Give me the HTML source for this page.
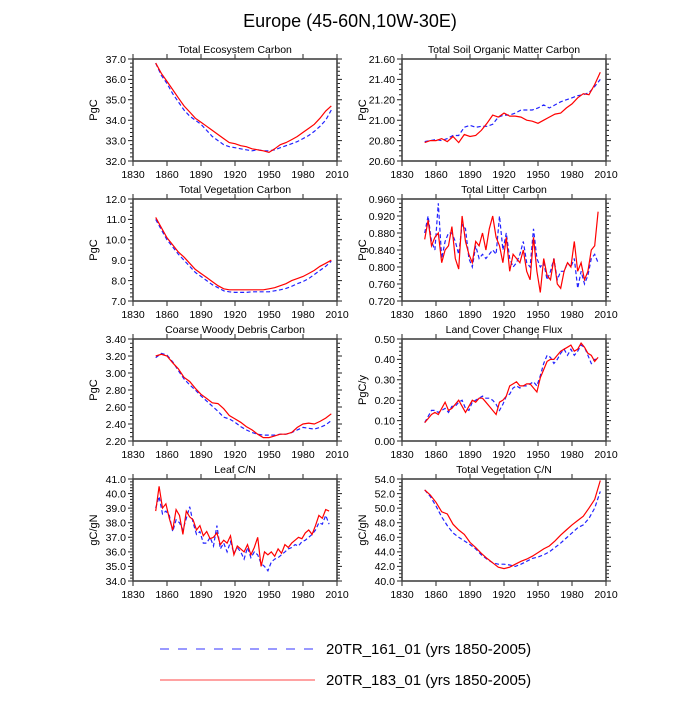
<!DOCTYPE html>
<html><head><meta charset="utf-8"><style>
body{margin:0;background:#fff;}
svg text{font-family:"Liberation Sans",sans-serif;fill:#000;}
</style></head><body>
<svg id="c" width="700" height="700" xmlns="http://www.w3.org/2000/svg">
<text x="350" y="27" font-size="18" text-anchor="middle">Europe (45-60N,10W-30E)</text>
<g>
<line x1="160" y1="649" x2="315" y2="649" stroke="#3333ff" stroke-width="1" stroke-dasharray="9,9"/>
<text x="326" y="654" font-size="15">20TR_161_01 (yrs 1850-2005)</text>
<line x1="160" y1="680" x2="315" y2="680" stroke="#ff4444" stroke-width="1"/>
<text x="326" y="685" font-size="15">20TR_183_01 (yrs 1850-2005)</text>
</g>
</svg>
<script>
const xTicks=[1830,1860,1890,1920,1950,1980,2010];
const yrs5Start=1850, yrs5Step=5, yrs3Start=1850, yrs3Step=3;

const ecoRed=[36.8,36.3,35.9,35.5,35.1,34.7,34.4,34.1,33.9,33.7,33.5,33.3,33.1,32.9,32.85,32.75,32.7,32.6,32.55,32.5,32.42,32.6,32.8,32.9,33.05,33.2,33.4,33.6,33.8,34.1,34.45,34.7];
const ecoBlue=[36.8,36.2,35.8,35.3,34.9,34.5,34.2,34.0,33.8,33.5,33.2,33.0,32.8,32.7,32.65,32.6,32.55,32.5,32.55,32.5,32.5,32.55,32.65,32.75,32.85,32.95,33.1,33.25,33.45,33.7,34.0,34.5];
const ecoTicks=["32.0","33.0","34.0","35.0","36.0","37.0"];

const soilRed=[20.78,20.8,20.8,20.82,20.79,20.84,20.78,20.86,20.84,20.85,20.9,20.97,21.05,21.03,21.07,21.04,21.04,21.03,21.0,20.99,20.97,21.0,21.03,21.06,21.07,21.12,21.16,21.22,21.26,21.25,21.35,21.47];
const soilBlue=[20.79,20.8,20.81,20.8,20.82,20.85,20.85,20.93,20.95,20.93,20.94,20.94,20.96,21.03,21.05,21.05,21.07,21.1,21.1,21.1,21.12,21.15,21.12,21.15,21.18,21.2,21.22,21.24,21.25,21.27,21.33,21.4];
const soilTicks=["20.60","20.80","21.00","21.20","21.40","21.60"];

const vegRed=[11.1,10.6,10.1,9.75,9.4,9.15,8.85,8.55,8.35,8.15,7.95,7.75,7.6,7.55,7.55,7.55,7.55,7.55,7.55,7.55,7.6,7.65,7.75,7.85,8.0,8.1,8.2,8.35,8.5,8.7,8.85,9.0];
const vegBlue=[11.0,10.5,10.0,9.65,9.3,9.0,8.7,8.4,8.2,8.0,7.8,7.65,7.5,7.45,7.42,7.42,7.42,7.45,7.45,7.45,7.45,7.5,7.55,7.62,7.72,7.85,7.95,8.1,8.3,8.5,8.7,8.95];
const vegTicks=["7.0","8.0","9.0","10.0","11.0","12.0"];

const litRed=[.865,.91,.85,.87,.88,.81,.84,.85,.895,.82,.795,.92,.86,.83,.81,.86,.85,.88,.84,.89,.92,.87,.85,.81,.87,.79,.83,.82,.81,.84,.79,.77,.87,.79,.74,.82,.78,.77,.82,.76,.75,.79,.81,.80,.86,.79,.81,.77,.79,.84,.85,.93];
const litBlue=[.88,.92,.86,.84,.95,.82,.86,.88,.88,.86,.83,.90,.89,.82,.80,.85,.82,.83,.82,.83,.84,.83,.92,.84,.88,.82,.80,.81,.83,.86,.81,.80,.89,.82,.80,.81,.77,.79,.82,.77,.79,.79,.81,.80,.82,.75,.79,.76,.78,.82,.83,.81];
const litTicks=["0.720","0.760","0.800","0.840","0.880","0.920","0.960"];

const cwdRed=[3.2,3.22,3.2,3.12,3.05,2.95,2.9,2.82,2.75,2.7,2.65,2.64,2.58,2.5,2.46,2.42,2.37,2.33,2.28,2.24,2.24,2.26,2.28,2.28,2.3,2.36,2.4,2.41,2.4,2.43,2.47,2.52];
const cwdBlue=[3.18,3.23,3.21,3.13,3.03,2.93,2.86,2.8,2.73,2.67,2.61,2.55,2.48,2.46,2.42,2.37,2.33,2.3,2.28,2.27,2.27,2.27,2.28,2.28,2.3,2.33,2.36,2.35,2.34,2.36,2.39,2.44];
const cwdTicks=["2.20","2.40","2.60","2.80","3.00","3.20","3.40"];

const lccRed=[.09,.11,.13,.14,.13,.16,.19,.15,.16,.18,.20,.17,.14,.17,.20,.19,.21,.21,.19,.17,.15,.13,.19,.20,.22,.27,.28,.29,.27,.27,.28,.28,.26,.24,.31,.35,.39,.40,.40,.42,.44,.45,.46,.47,.44,.45,.48,.46,.43,.42,.39,.41];
const lccBlue=[.09,.12,.15,.15,.14,.15,.16,.14,.17,.17,.19,.20,.16,.15,.19,.20,.21,.22,.21,.21,.20,.18,.15,.18,.22,.23,.26,.27,.26,.27,.27,.28,.29,.27,.32,.38,.42,.41,.38,.40,.43,.45,.42,.45,.42,.44,.47,.46,.42,.38,.40,.40];
const lccTicks=["0.00","0.10","0.20","0.30","0.40","0.50"];

const leafRed=[38.8,40.5,39.0,39.3,38.3,37.5,38.9,38.5,37.2,38.8,38.4,38.2,37.5,37.8,37.1,37.4,36.9,37.0,37.3,36.5,36.8,36.6,37.1,35.8,36.4,36.2,36.0,36.5,35.8,36.3,37.0,35.0,36.0,35.8,36.0,35.7,36.2,35.9,36.5,36.3,36.6,36.8,37.0,36.9,37.3,37.5,37.2,37.8,38.5,38.3,38.9,38.8];
const leafBlue=[39.0,39.8,38.6,38.8,38.5,37.4,38.2,38.0,37.5,38.3,39.1,38.0,37.2,37.4,36.6,36.6,37.0,36.4,37.8,36.2,36.6,36.0,36.7,35.9,36.3,36.0,35.5,36.3,35.6,36.0,35.8,35.2,35.0,34.7,35.3,35.5,35.6,35.8,36.0,36.2,36.3,36.5,36.4,36.7,36.8,37.0,37.2,37.5,38.0,37.9,38.5,37.9];
const leafTicks=["34.0","35.0","36.0","37.0","38.0","39.0","40.0","41.0"];

const cnRed=[52.5,51.8,50.8,49.5,49.2,47.8,47.0,46.4,45.3,44.6,43.8,43.1,42.5,41.9,41.7,41.9,42.3,42.7,43.0,43.4,43.9,44.4,44.8,45.5,46.3,47.0,47.7,48.3,48.9,50.0,51.2,53.8];
const cnBlue=[52.5,51.6,50.3,48.8,47.6,46.6,46.0,45.5,45.0,44.4,43.6,43.0,42.5,42.3,42.3,42.2,42.0,42.3,42.7,43.1,43.3,43.6,44.0,44.6,45.2,45.9,46.6,47.3,47.7,48.6,50.0,52.3];
const cnTicks=["40.0","42.0","44.0","46.0","48.0","50.0","52.0","54.0"];

const panels=[
 {id:"total-ecosystem-carbon",title:"Total Ecosystem Carbon",yl:"PgC",col:0,row:0,red:ecoRed,blue:ecoBlue,ticks:ecoTicks,step:5,minor:5},
 {id:"total-soil-organic-matter-carbon",title:"Total Soil Organic Matter Carbon",yl:"PgC",col:1,row:0,red:soilRed,blue:soilBlue,ticks:soilTicks,step:5,minor:4},
 {id:"total-vegetation-carbon",title:"Total Vegetation Carbon",yl:"PgC",col:0,row:1,red:vegRed,blue:vegBlue,ticks:vegTicks,step:5,minor:5},
 {id:"total-litter-carbon",title:"Total Litter Carbon",yl:"PgC",col:1,row:1,red:litRed,blue:litBlue,ticks:litTicks,step:3,minor:4},
 {id:"coarse-woody-debris-carbon",title:"Coarse Woody Debris Carbon",yl:"PgC",col:0,row:2,red:cwdRed,blue:cwdBlue,ticks:cwdTicks,step:5,minor:4},
 {id:"land-cover-change-flux",title:"Land Cover Change Flux",yl:"PgC/y",col:1,row:2,red:lccRed,blue:lccBlue,ticks:lccTicks,step:3,minor:5},
 {id:"leaf-cn",title:"Leaf C/N",yl:"gC/gN",col:0,row:3,red:leafRed,blue:leafBlue,ticks:leafTicks,step:3,minor:5},
 {id:"total-vegetation-cn",title:"Total Vegetation C/N",yl:"gC/gN",col:1,row:3,red:cnRed,blue:cnBlue,ticks:cnTicks,step:5,minor:4}
];
const NS="http://www.w3.org/2000/svg";
const svg=document.getElementById('c');
function mk(tag,attrs,parent){const e=document.createElementNS(NS,tag);for(const k in attrs)e.setAttribute(k,attrs[k]);parent.appendChild(e);return e;}
const W=204,H=102;
panels.forEach(p=>{
 const x0=p.col?402:133, y0=59+p.row*140;
 const g=mk('g',{},svg);
 
 
 const ymin=parseFloat(p.ticks[0]), ymax=parseFloat(p.ticks[p.ticks.length-1]);
 const sx=v=>x0+(v-1830)/(180)*W;
 const sy=v=>y0+H-(v-ymin)/(ymax-ymin)*H;
 const t=mk('text',{x:x0+W/2,y:y0-6,'font-size':10.5,'text-anchor':'middle'},g);t.textContent=p.title;
 
 
 const yl=mk('text',{x:0,y:0,'font-size':11,'text-anchor':'middle',transform:`translate(${x0-36},${y0+H/2}) rotate(-90)`},g);yl.textContent=p.yl;
 
 
 // ticks
 let d='';
 xTicks.forEach(v=>{const x=sx(v);d+=`M${x},${y0+H}v5M${x},${y0}v-5`;
  const tl=mk('text',{x:x,y:y0+H+17,'font-size':10.5,'text-anchor':'middle'},g);tl.textContent=v;
  
  });
 const n=p.ticks.length;
 p.ticks.forEach((s,i)=>{const v=parseFloat(s);const y=sy(v);d+=`M${x0},${y}h-5M${x0+W},${y}h5`;
  const tl=mk('text',{x:x0-7,y:y+3.8,'font-size':10.5,'text-anchor':'end'},g);tl.textContent=s;
  
  
  if(i<n-1){const nv=parseFloat(p.ticks[i+1]);for(let k=1;k<p.minor;k++){const yy=sy(v+(nv-v)*k/p.minor);d+=`M${x0},${yy}h-3M${x0+W},${yy}h3`;}}
 });
 const tk=mk('path',{d:d,stroke:'#222','stroke-width':1,fill:'none'},g);
 
 
 const fr=mk('rect',{x:x0,y:y0,width:W,height:H,fill:'none',stroke:'#444','stroke-width':1.6},g);
 
 
 const path=arr=>arr.map((v,i)=>(i?'L':'M')+sx(1850+i*p.step).toFixed(1)+','+sy(v).toFixed(1)).join('');
 const lb=mk('path',{d:path(p.blue),stroke:'#2222ff','stroke-width':1.2,fill:'none','stroke-dasharray':'4,2.5'},g);
 
 
 const lr=mk('path',{d:path(p.red),stroke:'#ff0000','stroke-width':1.2,fill:'none'},g);
 
 
});
</script>
</body></html>
